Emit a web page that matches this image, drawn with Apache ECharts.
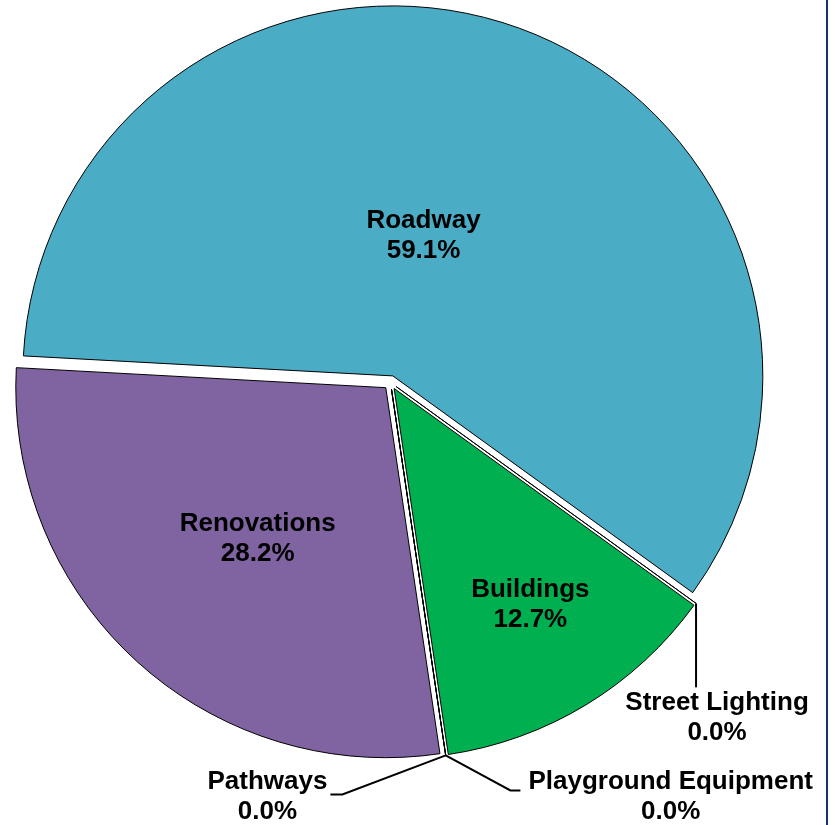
<!DOCTYPE html>
<html>
<head>
<meta charset="utf-8">
<script src="https://cdn.jsdelivr.net/npm/echarts@6/dist/echarts.min.js"></script>
<style>
html, body { margin: 0; padding: 0; background: #ffffff; }
#wrap { position: relative; width: 835px; height: 825px; }
#chart { position: absolute; left: 0; top: 0; width: 835px; height: 825px; }
#edge { position: absolute; left: 826px; top: 0; width: 2px; height: 825px; background: #17306E; }
</style>
</head>
<body>
<div id="wrap">
  <div id="chart"></div>
  <div id="edge"></div>
</div>
<script>
// ---- data ----
const categories = ['Roadway', 'Street Lighting', 'Buildings', 'Playground Equipment', 'Pathways', 'Renovations'];
const shares = [59.1, 0.0, 12.7, 0.0, 0.0, 28.2];

// ---- styles ----
const sliceColors = ['#4BACC6', '#4BACC6', '#00B050', '#00B050', '#8064A2', '#8064A2'];
// inside labels: shift from default inner position; outside labels: placement relative to the line anchor
const labelPlacement = {
  'Roadway': { dx: -32, dy: 37 },
  'Renovations': { dx: -1.5, dy: 12 },
  'Buildings': { dx: 38.6, dy: 56 },
  'Street Lighting': { line: [[0, 0], [0, 84], [0, 84]], side: 'center', lx: 21, ly: 114.5 },
  'Playground Equipment': { line: [[0, 0], [64.7, 35], [74.7, 35]], side: 'left', lx: 82.7, ly: 41 },
  'Pathways': { line: [[0, 0], [-103.3, 39], [-115.3, 39]], side: 'right', lx: -118.3, ly: 41 }
};
const FONT = "'Liberation Sans', Arial, sans-serif";

const chart = echarts.init(document.getElementById('chart'), null, { renderer: 'canvas' });

const labelCommon = {
  fontFamily: FONT,
  fontSize: 26,
  fontWeight: 'bold',
  color: '#000000',
  lineHeight: 30,
  align: 'center',
  formatter: function (p) { return p.name + '\n' + p.percent.toFixed(1) + '%'; }
};

const itemBorder = { borderColor: '#000000', borderWidth: 1 };

const pieData = categories.map(function (name, i) {
  const zero = shares[i] === 0;
  return {
    name: name,
    value: shares[i],
    selected: true,
    itemStyle: Object.assign({ color: sliceColors[i] }, itemBorder),
    select: { itemStyle: Object.assign({ color: sliceColors[i] }, itemBorder) },
    label: { position: zero ? 'outside' : 'inside' },
    labelLine: { show: zero }
  };
});

chart.setOption({
  animation: false,
  backgroundColor: '#ffffff',
  series: [{
    type: 'pie',
    center: [390.5, 382.5],
    radius: 370,
    startAngle: 176.9,
    clockwise: true,
    selectedMode: 'multiple',
    selectedOffset: 7,
    avoidLabelOverlap: false,
    minShowLabelAngle: 0,
    emphasis: { disabled: true },
    label: labelCommon,
    select: { label: labelCommon },
    labelLine: {
      show: true,
      length: 20,
      length2: 10,
      lineStyle: { color: '#000000', width: 2 }
    },
    labelLayout: function (p) {
      const pl = labelPlacement[categories[p.dataIndex]];
      if (!pl) return {};
      if (!pl.line) return { dx: pl.dx, dy: pl.dy };
      const pts = p.labelLinePoints;
      if (!pts || !pts[0]) return {};
      const a = pts[0];
      const r = p.labelRect;
      let cx = a[0] + pl.lx;
      if (pl.side === 'left') cx += r.width / 2;
      else if (pl.side === 'right') cx -= r.width / 2;
      const cy = a[1] + pl.ly;
      // the outside label is drawn centred on its anchor x (labelRect.x)
      return {
        dx: cx - r.x,
        dy: cy - (r.y + r.height / 2),
        labelLinePoints: pl.line.map(function (q) { return [a[0] + q[0], a[1] + q[1]]; })
      };
    },
    data: pieData
  }]
});
</script>
</body>
</html>
